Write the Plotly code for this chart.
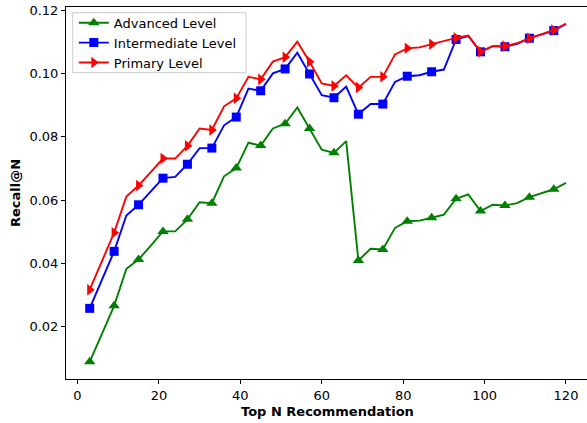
import plotly.graph_objects as go

top_n = list(range(3, 121, 3))

advanced = [0.0089, 0.0178, 0.0266, 0.0383, 0.0412, 0.0456, 0.0501, 0.0501, 0.0539, 0.0593,
            0.0590, 0.0675, 0.0701, 0.0781, 0.0772, 0.0826, 0.0841, 0.0892, 0.0826, 0.0759,
            0.0749, 0.0786, 0.0409, 0.0446, 0.0444, 0.0512, 0.0533, 0.0535, 0.0544, 0.0554,
            0.0604, 0.0618, 0.0565, 0.0585, 0.0583, 0.0590, 0.0609, 0.0622, 0.0634, 0.0654]

intermediate = [0.0258, 0.0348, 0.0438, 0.0551, 0.0585, 0.0627, 0.0669, 0.0673, 0.0713, 0.0764,
                0.0764, 0.0836, 0.0862, 0.0952, 0.0945, 0.1000, 0.1014, 0.1065, 0.0998, 0.0931,
                0.0923, 0.0958, 0.0871, 0.0903, 0.0903, 0.0973, 0.0991, 0.0994, 0.1005, 0.1012,
                0.1107, 0.1118, 0.1068, 0.1086, 0.1084, 0.1093, 0.1111, 0.1123, 0.1135, 0.1156]

primary = [0.0317, 0.0407, 0.0497, 0.0611, 0.0646, 0.0688, 0.0731, 0.0731, 0.0771, 0.0826,
           0.0821, 0.0896, 0.0921, 0.0989, 0.0981, 0.1037, 0.1051, 0.1100, 0.1037, 0.0968,
           0.0960, 0.0994, 0.0955, 0.0989, 0.0989, 0.1060, 0.1079, 0.1082, 0.1092, 0.1103,
           0.1112, 0.1119, 0.1068, 0.1086, 0.1086, 0.1095, 0.1111, 0.1123, 0.1137, 0.1156]

series = [
    ("Advanced Level", advanced, "#008000", "triangle-up", 10),
    ("Intermediate Level", intermediate, "#0000ff", "square", 9),
    ("Primary Level", primary, "#ff0000", "triangle-right", 10),
]

FONT = "DejaVu Sans"
LW = 1.9
fig = go.Figure()

for name, vals, color, sym, ms in series:
    fig.add_trace(go.Scatter(x=top_n, y=vals, mode="lines", line=dict(color=color, width=LW),
                             showlegend=False, legendgroup=name, hoverinfo="skip"))
    fig.add_trace(go.Scatter(x=top_n[::2], y=vals[::2], mode="markers",
                             marker=dict(color=color, symbol=sym, size=ms, line=dict(width=0)),
                             showlegend=False, legendgroup=name))
    fig.add_trace(go.Scatter(x=[None], y=[None], mode="lines+markers", name=name,
                             line=dict(color=color, width=LW),
                             marker=dict(color=color, symbol=sym, size=ms, line=dict(width=0)),
                             legendgroup=name))

L, T, PW, PH = 66, 7, 521, 372

def px_x(p):
    return (p - L) / PW

def px_y(p):
    return 1 - (p - T) / PH

fig.update_layout(
    width=587, height=423,
    margin=dict(l=L, r=0, t=T, b=423 - T - PH),
    paper_bgcolor="white", plot_bgcolor="white",
    font=dict(family=FONT, size=13, color="black"),
    showlegend=True,
    legend=dict(x=0.015, y=0.998, xanchor="left", yanchor="top",
                bgcolor="rgba(0,0,0,0)", borderwidth=0,
                font=dict(family=FONT, size=13, color="black"), tracegroupgap=0,
                itemwidth=30),
    shapes=[dict(type="rect", xref="paper", yref="paper",
                 x0=px_x(72.7), x1=px_x(246), y0=px_y(72.7), y1=px_y(12.7),
                 line=dict(color="#cccccc", width=1), fillcolor="rgba(255,255,255,0.8)",
                 layer="above")],
    xaxis=dict(range=[-2.825, 125.16], tickvals=[0, 20, 40, 60, 80, 100, 120],
               showgrid=False, zeroline=False, showline=True, linecolor="black", linewidth=1,
               mirror=True, ticks="outside", ticklen=4, tickcolor="black",
               tickfont=dict(family=FONT, size=13, color="black")),
    yaxis=dict(range=[0.00349, 0.12095], tickvals=[0.02, 0.04, 0.06, 0.08, 0.10, 0.12],
               ticktext=["0.02", "0.04", "0.06", "0.08", "0.10", "0.12"],
               showgrid=False, zeroline=False, showline=True, linecolor="black", linewidth=1,
               ticks="outside", ticklen=4, tickcolor="black",
               tickfont=dict(family=FONT, size=13, color="black")),
    annotations=[
        dict(text="<b>Top N Recommendation</b>", xref="paper", yref="paper",
             x=px_x(327.5), y=0, yshift=-(411 - 379), xanchor="center", yanchor="middle",
             showarrow=False, font=dict(family=FONT, size=13, color="black")),
        dict(text="<b>Recall@N</b>", xref="paper", yref="paper",
             x=0, xshift=-(66 - 15), y=0.5, xanchor="center", yanchor="middle", textangle=-90,
             showarrow=False, font=dict(family=FONT, size=13, color="black")),
    ],
)

fig.write_html("out.html")
